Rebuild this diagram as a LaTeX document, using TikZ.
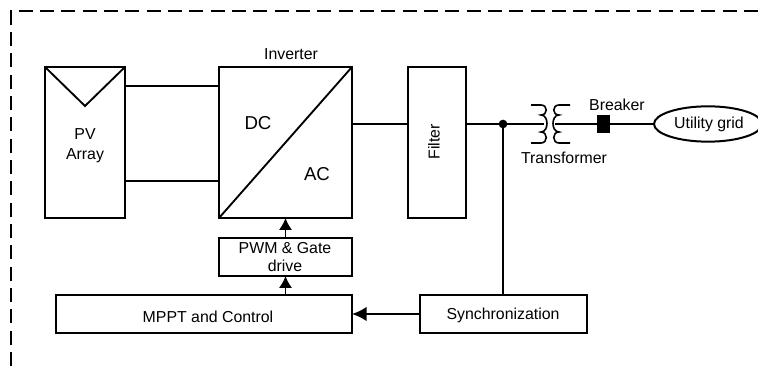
\documentclass[tikz,border=0pt]{standalone}
\usepackage{fontspec}
\setmainfont{Liberation Sans}
\usetikzlibrary{shapes.geometric,arrows.meta}
\begin{document}
\begin{tikzpicture}[x=0.75pt,y=-0.75pt,
  box/.style={draw,line width=1.5pt,inner sep=0pt,outer sep=0pt,anchor=north west},
  wire/.style={line width=1.3pt},
  txt/.style={inner sep=0pt,font=\fontsize{11.9}{14}\selectfont,align=center},
  big/.style={inner sep=0pt,font=\fontsize{14}{16}\selectfont},
  arr/.style={line width=1.3pt,-{Latex[length=9pt,width=10pt]}},
  bigarr/.style={line width=1.6pt,-{Latex[length=11pt,width=11pt]}}]
\useasboundingbox (0,0) rectangle (758,366);
\clip (0,0) rectangle (758,366);
\draw[line width=1.1pt,dash pattern=on 10.5pt off 5.5pt] (11,366) -- (11,11) -- (758,11);
\node[box,minimum width=60pt,minimum height=113.25pt] (pv) at (45,67) {};
\node[box,minimum width=99.75pt,minimum height=113.25pt] (inv) at (219,67) {};
\node[box,minimum width=43.5pt,minimum height=113.25pt] (filter) at (408,67) {};
\node[box,minimum width=99.75pt,minimum height=28.5pt] (pwm) at (219,238) {};
\node[box,minimum width=222pt,minimum height=28.5pt] (mppt) at (56,295) {};
\node[box,minimum width=125.25pt,minimum height=28.5pt] (sync) at (420,295) {};
\node[draw,ellipse,line width=1.5pt,minimum width=81pt,minimum height=26.5pt,inner sep=0pt,outer sep=0pt] (grid) at (708,124) {};
\node[fill=black,inner sep=0pt,outer sep=0pt,minimum width=10pt,minimum height=13pt] (brk) at (603.5,124) {};
\node[circle,fill=black,inner sep=0pt,outer sep=0pt,minimum size=6.5pt] (dot) at (503,124) {};
\coordinate (cl) at (544,124);
\coordinate (cr) at (555,124);
\coordinate (m) at (85,106);
\coordinate (ja) at (219,86);
\coordinate (jb) at (219,181);
% PV
\draw[line width=1.4pt] (pv.north west) -- (m) -- (pv.north east);
\draw[wire] (ja -| pv.east) -- (ja);
\draw[wire] (jb -| pv.east) -- (jb);
\draw[line width=1.4pt] (inv.south west) -- (inv.north east);
\draw[wire] (inv.east |- dot) -- (filter.west |- dot);
\draw[wire] (filter.east |- dot) -- (dot) -- (cl);
\draw[wire] (cr) -- (brk) -- (grid);
\draw[wire] (dot) -- (dot |- sync.north);
\draw[bigarr] (sync.west) -- (mppt.east);
\draw[arr] (pwm.north) -- (inv.south);
\draw[arr] (mppt.north -| pwm.south) -- (pwm.south);
% transformer
\draw[line width=1.2pt] (531,105) -- (541,105) .. controls (548,105) and (548,115) .. (541,115)
  .. controls (549,115) and (549,132) .. (541,132) .. controls (548,132) and (548,143) .. (541,143) -- (531,143);
\draw[line width=1.2pt] (570,105) -- (559,105) .. controls (552,105) and (552,115) .. (559,115)
  .. controls (551,115) and (551,132) .. (559,132) .. controls (552,132) and (552,143) .. (559,143) -- (570,143);
% text
\node[txt] (tpv) at (85,146) {PV\\[1pt]Array};
\node[txt] (tinv) at (291,54) {Inverter};
\node[big] (tdc) at (258,123) {DC};
\node[big] (tac) at (317,174) {AC};
\node[txt,rotate=90] (tf) at (434,142) {Filter};
\node[txt] (tb) at (617,105) {Breaker};
\node[txt] (tt) at (564,158) {Transformer};
\node[txt] (tg) at (709,124) {Utility grid};
\node[txt] (tpwm) at (285,257) {PWM \& Gate\\[0pt]drive};
\node[txt] (tm) at (208,317) {MPPT and Control};
\node[txt] (ts) at (503,315) {Synchronization};
\end{tikzpicture}
\end{document}
